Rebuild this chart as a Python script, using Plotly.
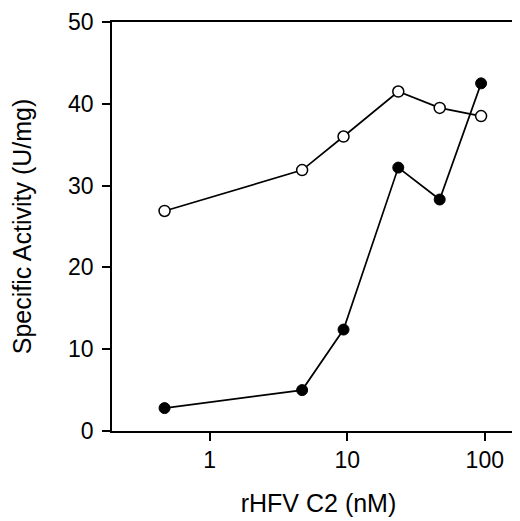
import math
import plotly.graph_objects as go

# rHFV C2 concentration (nM)
conc_nm = [0.47, 4.7, 9.4, 23.5, 47, 94]
# specific activity (U/mg), open circles
activity_open = [26.9, 31.9, 36.0, 41.5, 39.5, 38.5]
# specific activity (U/mg), filled circles
activity_filled = [2.8, 5.0, 12.4, 32.2, 28.3, 42.5]

x_ticks = [1, 10, 100]
y_ticks = [0, 10, 20, 30, 40, 50]

font = "Liberation Sans, Arial, Helvetica, sans-serif"

fig = go.Figure()
fig.add_trace(go.Scatter(
    x=conc_nm, y=activity_open, mode="lines+markers",
    line=dict(color="black", width=1.7),
    marker=dict(symbol="circle", size=11, color="white",
                line=dict(color="black", width=1.5)),
    cliponaxis=False,
))
fig.add_trace(go.Scatter(
    x=conc_nm, y=activity_filled, mode="lines+markers",
    line=dict(color="black", width=1.7),
    marker=dict(symbol="circle", size=11, color="black",
                line=dict(color="black", width=1)),
    cliponaxis=False,
))

fig.update_layout(
    width=520, height=521,
    margin=dict(l=104, r=3, t=14, b=98),
    paper_bgcolor="white", plot_bgcolor="white",
    showlegend=False,
    font=dict(family=font, size=23, color="black"),
)
fig.update_xaxes(
    type="log", range=[math.log10(0.195), math.log10(196)],
    tickvals=x_ticks, ticktext=[str(v) for v in x_ticks],
    ticks="outside", ticklen=8, tickwidth=1.5, tickcolor="black",
    showline=True, linecolor="black", linewidth=1.5, mirror=True,
    showgrid=False, zeroline=False, automargin=False,
    tickfont=dict(size=23), ticklabeloverflow="allow",
    title=dict(text="rHFV C2 (nM)", standoff=22, font=dict(size=25)),
)
fig.update_yaxes(
    range=[0, 50], tickvals=y_ticks,
    ticks="outside", ticklen=8, tickwidth=1.5, tickcolor="black",
    showline=True, linecolor="black", linewidth=1.5, mirror=True,
    showgrid=False, zeroline=False, automargin=False,
    tickfont=dict(size=23), ticklabeloverflow="allow", ticklabelstandoff=4,
    title=dict(text="Specific Activity (U/mg)", standoff=41, font=dict(size=25)),
)

fig.write_html("out.html")
